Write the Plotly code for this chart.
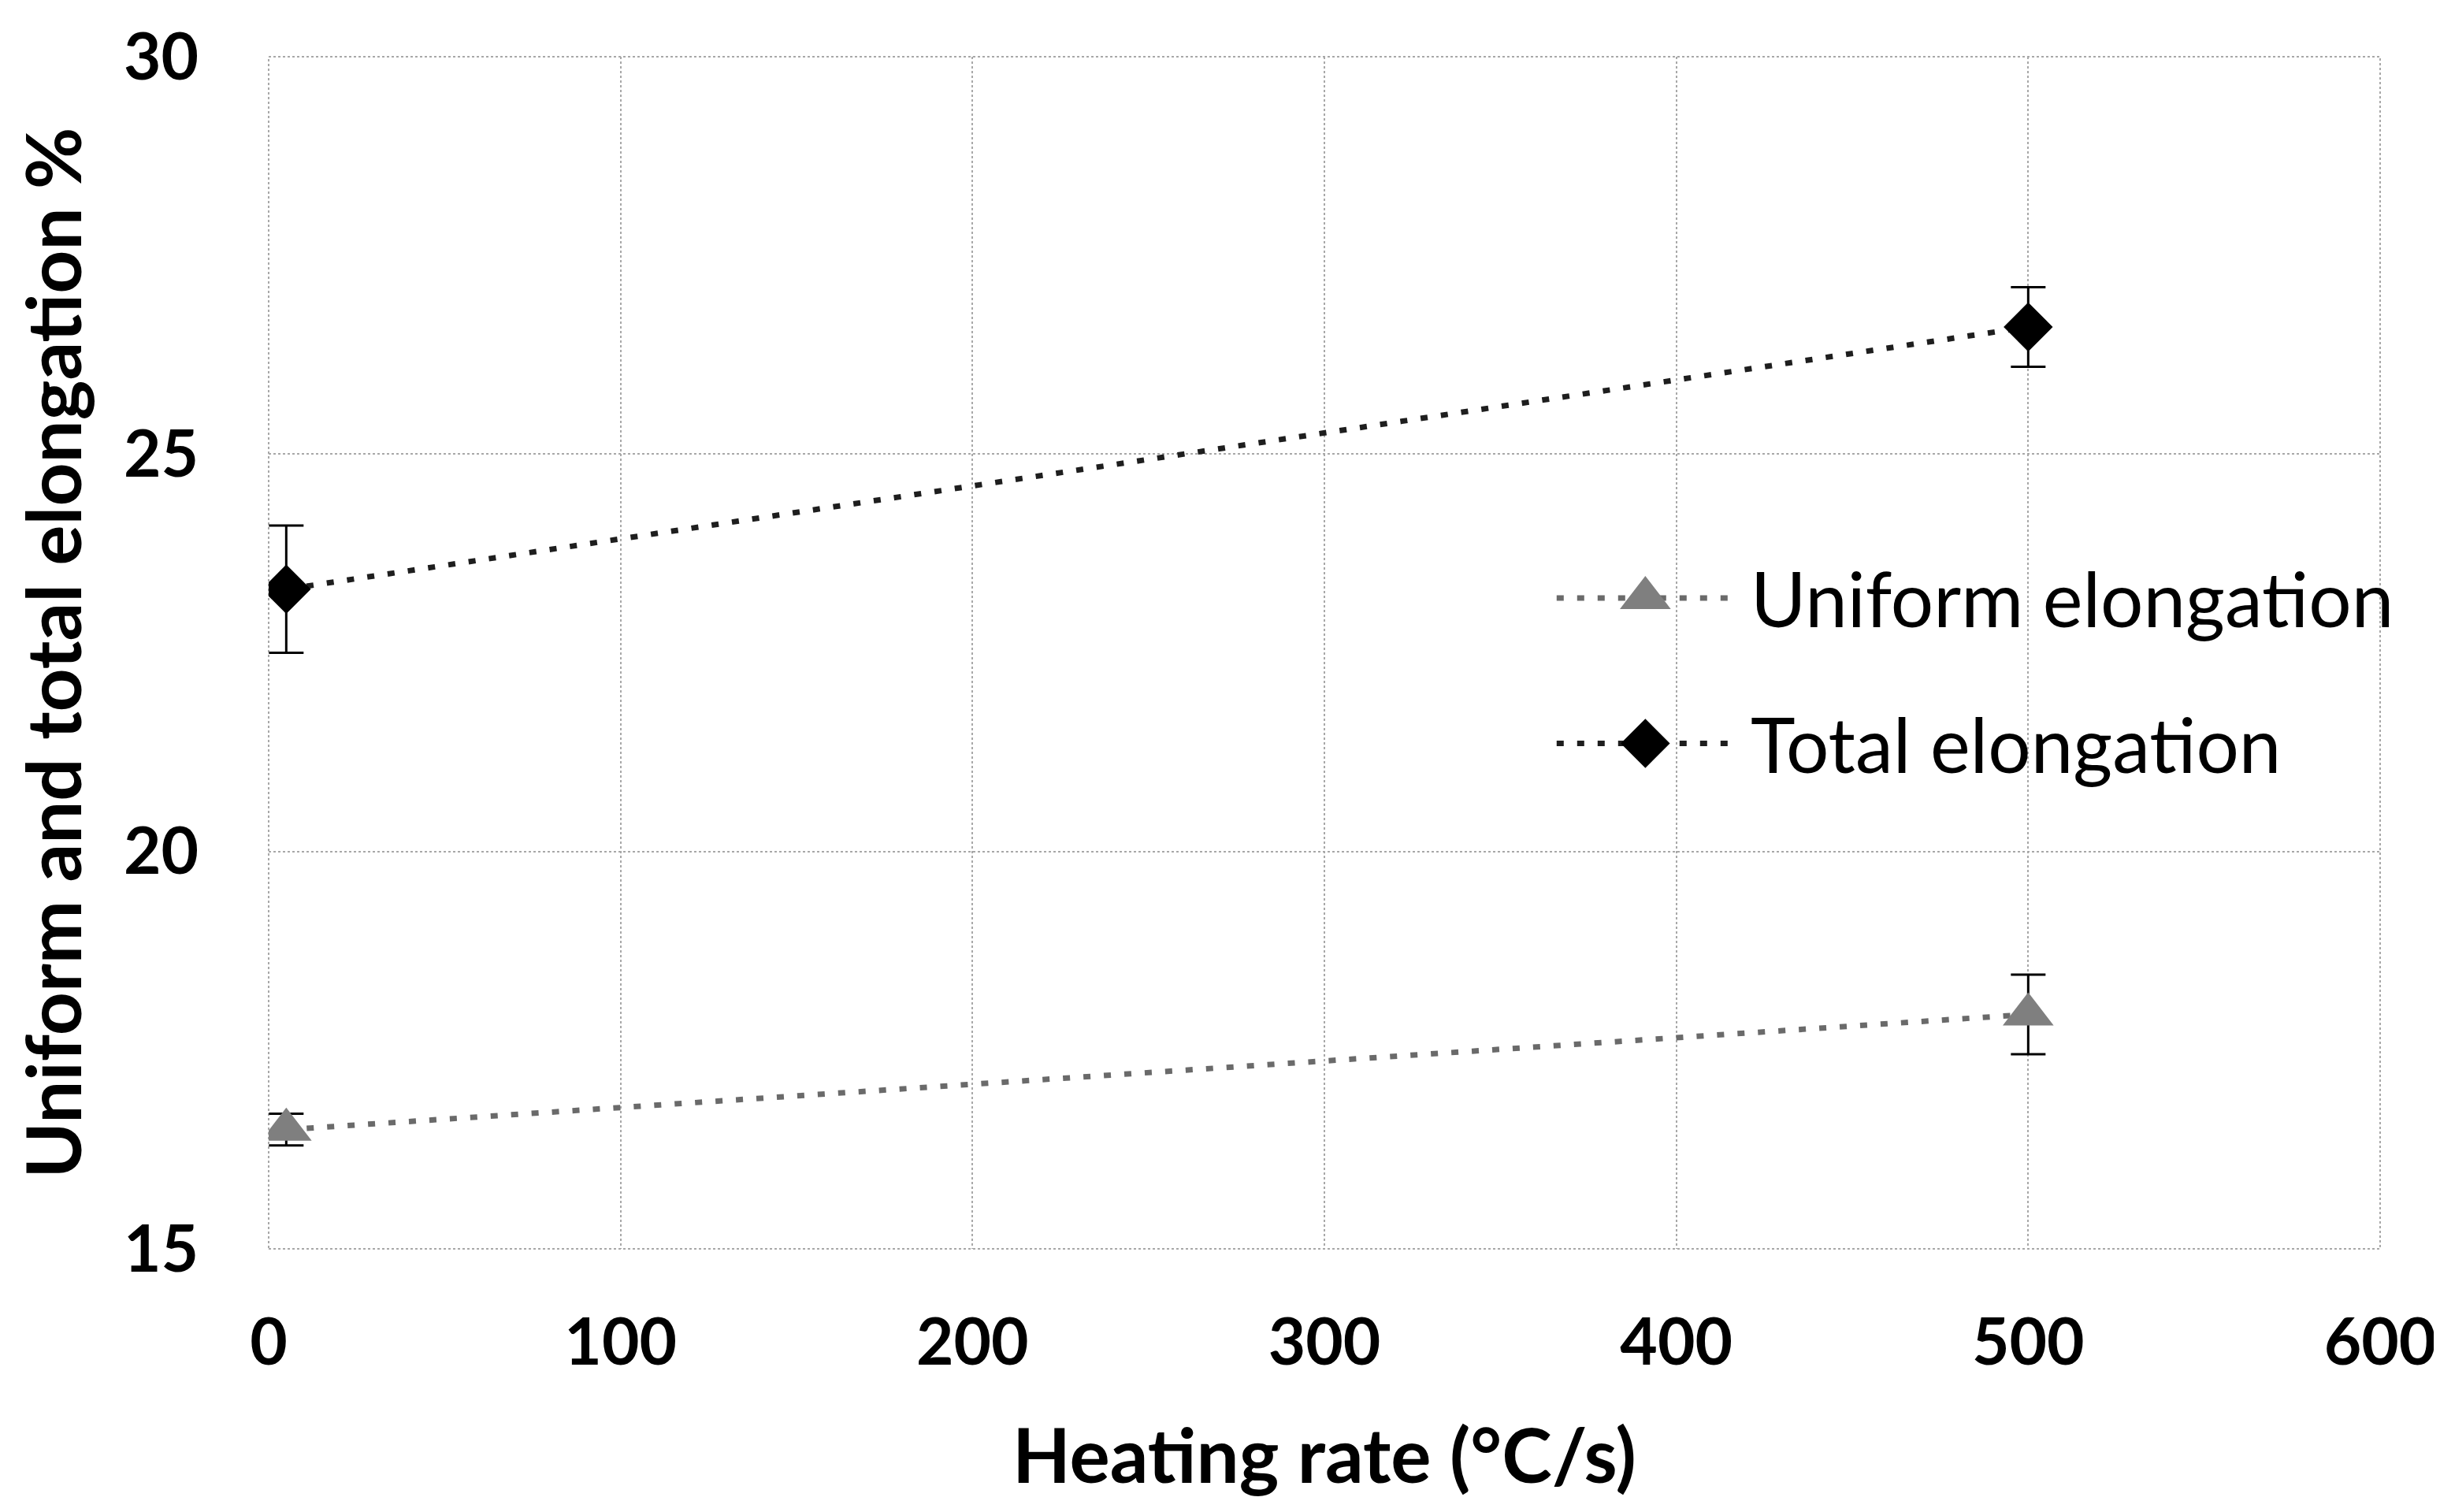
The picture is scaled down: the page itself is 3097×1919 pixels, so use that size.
import plotly.graph_objects as go

# ---- data ----
heating_rate = [5, 500]
uniform_elong = [16.5, 17.95]
uniform_err = [0.2, 0.5]
total_elong = [23.3, 26.6]
total_err = [0.8, 0.5]

x_ticks = [0, 100, 200, 300, 400, 500, 600]
y_ticks = [15, 20, 25, 30]

series_names = ["Uniform elongation", "Total elongation"]

GRID = "#a8a8a8"
FONT = "Lato"
DOTS = "9px,17px"

fig = go.Figure()

fig.add_trace(go.Scatter(
    x=heating_rate, y=uniform_elong, mode="lines+markers", name=series_names[0],
    line=dict(color="#6a6a6a", width=7, dash=DOTS),
    marker=dict(symbol="triangle-up", size=56, color="#7f7f7f"),
    error_y=dict(type="data", array=uniform_err, color="black", thickness=3, width=22),
    showlegend=False,
))
fig.add_trace(go.Scatter(
    x=heating_rate, y=total_elong, mode="lines+markers", name=series_names[1],
    line=dict(color="#1e1e1e", width=7, dash=DOTS),
    marker=dict(symbol="diamond", size=48, color="black"),
    error_y=dict(type="data", array=total_err, color="black", thickness=3, width=22),
    showlegend=False,
))

# ---- custom legend (overlay axis in plot-fraction units) ----
leg_rows = [0.546, 0.424]
leg_sym_x = 0.652
leg_line = (0.610, 0.692)
leg_text_x = 0.701
leg_styles = [
    dict(line="#6a6a6a", symbol="triangle-up", size=56, color="#7f7f7f"),
    dict(line="#1e1e1e", symbol="diamond", size=48, color="black"),
]
for name, yrow, st in zip(series_names, leg_rows, leg_styles):
    fig.add_trace(go.Scatter(
        x=[leg_line[0], leg_line[1]], y=[yrow, yrow], mode="lines",
        line=dict(color=st["line"], width=7, dash=DOTS),
        xaxis="x2", yaxis="y2", showlegend=False, hoverinfo="skip",
    ))
    fig.add_trace(go.Scatter(
        x=[leg_sym_x], y=[yrow], mode="markers",
        marker=dict(symbol=st["symbol"], size=st["size"], color=st["color"]),
        xaxis="x2", yaxis="y2", showlegend=False, hoverinfo="skip",
    ))
    fig.add_annotation(
        x=leg_text_x, y=yrow, xref="x2", yref="y2", text=name, showarrow=False,
        xanchor="left", yanchor="middle",
        font=dict(family=FONT, size=96, color="black"),
    )

# plot-area border (dotted, like the gridlines)
fig.add_shape(type="rect", xref="paper", yref="paper", x0=0, x1=1, y0=0, y1=1,
              line=dict(color=GRID, width=2, dash="dot"), layer="below")

fig.update_layout(
    width=3097, height=1919,
    paper_bgcolor="white", plot_bgcolor="white",
    margin=dict(l=333, r=84, t=58, b=342),
    font=dict(family=FONT, color="black"),
    xaxis=dict(
        range=[0, 600], tickvals=x_ticks, showgrid=True, gridcolor=GRID, gridwidth=2,
        griddash="dot", zeroline=False, showline=False, ticks="",
        tickfont=dict(family=FONT, size=82, color="black", weight="bold"),
        ticklabelstandoff=64,
        title=dict(text="<b>Heating rate (°C/s)</b>", font=dict(family=FONT, size=96, color="black"),
                   standoff=66),
    ),
    yaxis=dict(
        range=[15, 30], tickvals=y_ticks, showgrid=True, gridcolor=GRID, gridwidth=2,
        griddash="dot", zeroline=False, showline=False, ticks="",
        tickfont=dict(family=FONT, size=82, color="black", weight="bold"),
        ticklabelstandoff=88,
        title=dict(text="<b>Uniform and total elongation %</b>", font=dict(family=FONT, size=96, color="black"),
                   standoff=40),
    ),
    xaxis2=dict(range=[0, 1], overlaying="x", visible=False, fixedrange=True),
    yaxis2=dict(range=[0, 1], overlaying="y", visible=False, fixedrange=True),
)

fig.write_html("out.html")
